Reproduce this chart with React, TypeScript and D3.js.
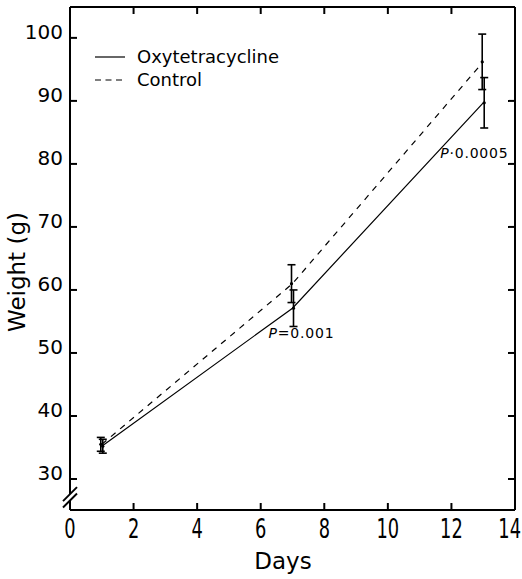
import React from "react";
import * as d3 from "d3";

const days = [1, 7, 13];
const oxyMean = [35.2, 57.1, 89.7];
const oxyErr = [1.1, 2.9, 4.0];
const controlMean = [35.5, 61.0, 96.2];
const controlErr = [1.1, 3.0, 4.4];
const xTicks = [0, 2, 4, 6, 8, 10, 12, 14];
const yTicks = [30, 40, 50, 60, 70, 80, 90, 100];
const rightTicks = [30, 40, 50, 60, 70, 80, 90];
const pLabels = [
  { day: 7, value: 52.3, text: "P", rest: "=0.001", dx: -24 },
  { day: 13, value: 81.0, text: "P", rest: "·0.0005", dx: -43 },
];
const legendItems = [
  { label: "Oxytetracycline", dash: "none" },
  { label: "Control", dash: "6,4.5" },
];

const W = 522;
const H = 579;
const left = 70;
const right = 515;
const top = 7;
const bottom = 510;

export default function App() {
  const x = d3.scaleLinear().domain([0, 14]).range([left, right]);
  const y = d3.scaleLinear().domain([25.08, 104.9]).range([bottom, top]);
  const line = d3
    .line<number>()
    .x((_, i) => x(days[i]))
    .y((d) => y(d));
  const font = "DejaVu Sans, sans-serif";
  const tick = 7;

  const errBar = (d: number, m: number, e: number, off: number, key: string, w = 1.6) => {
    const cx = x(d) + off;
    return (
      <g key={key} stroke="#000" strokeWidth={w}>
        <line x1={cx} x2={cx} y1={y(m + e)} y2={y(m - e)} />
        <line x1={cx - 4} x2={cx + 4} y1={y(m + e)} y2={y(m + e)} />
        <line x1={cx - 4} x2={cx + 4} y1={y(m - e)} y2={y(m - e)} />
        <circle cx={cx} cy={y(m)} r={1.6} fill="#000" stroke="none" />
      </g>
    );
  };

  return (
    <svg
      width={W}
      height={H}
      style={{ position: "absolute", left: 0, top: 0, background: "#fff" }}
      fontFamily={font}
    >
      <rect x={0} y={0} width={W} height={H} fill="#fff" />
      {/* frame */}
      <g stroke="#000" strokeWidth={2} fill="none">
        <line x1={left} x2={right} y1={top} y2={top} />
        <line x1={right} x2={right} y1={top} y2={bottom} />
        <line x1={left} x2={right} y1={bottom} y2={bottom} />
        <line x1={left} x2={left} y1={top} y2={y(27.6)} />
        <line x1={left} x2={left} y1={y(26.6)} y2={bottom} />
      </g>
      {/* axis break */}
      <g stroke="#000" strokeWidth={2}>
        <line x1={left - 7} x2={left + 7} y1={y(27.6) + 7} y2={y(27.6) - 7} />
        <line x1={left - 7} x2={left + 7} y1={y(26.6) + 7} y2={y(26.6) - 7} />
      </g>
      {/* ticks */}
      <g stroke="#000" strokeWidth={2}>
        {xTicks.slice(1, -1).map((t) => (
          <g key={"xt" + t}>
            <line x1={x(t)} x2={x(t)} y1={bottom} y2={bottom - tick} />
            <line x1={x(t)} x2={x(t)} y1={top} y2={top + tick} />
          </g>
        ))}
        {yTicks.map((t) => (
          <line key={"yl" + t} x1={left} x2={left + tick} y1={y(t)} y2={y(t)} />
        ))}
        {rightTicks.map((t) => (
          <line key={"yr" + t} x1={right} x2={right - tick} y1={y(t)} y2={y(t)} />
        ))}
      </g>
      {/* tick labels */}
      <g fontSize={27} fill="#000">
        {xTicks.map((t, i) => {
          const last = i === xTicks.length - 1;
          const px = last ? 521 : x(t);
          return (
            <text
              key={"xl" + t}
              transform={`translate(${px},538) scale(0.66,1)`}
              textAnchor={last ? "end" : "middle"}
            >
              {t}
            </text>
          );
        })}
      </g>
      <g fontSize={20} fill="#000">
        {yTicks.map((t) => (
          <text key={"ylab" + t} x={63} y={y(t) + 1} textAnchor="end">
            {t}
          </text>
        ))}
      </g>
      {/* axis titles */}
      <text x={283} y={569} fontSize={23} textAnchor="middle" fill="#000">
        Days
      </text>
      <text
        transform={`translate(25, 272) rotate(-90)`}
        fontSize={23}
        textAnchor="middle"
        fill="#000"
      >
        Weight (g)
      </text>
      {/* data lines */}
      <path d={line(oxyMean) || ""} fill="none" stroke="#000" strokeWidth={1.2} />
      <path
        d={line(controlMean) || ""}
        fill="none"
        stroke="#000"
        strokeWidth={1.2}
        strokeDasharray="6,6"
      />
      {/* error bars */}
      {days.map((d, i) => errBar(d, controlMean[i], controlErr[i], -1, "c" + i))}
      {days.map((d, i) => errBar(d, oxyMean[i], oxyErr[i], 1, "o" + i))}
      {/* p labels */}
      {pLabels.map((p) => (
        <text
          key={p.rest}
          x={x(p.day) + p.dx}
          y={y(p.value)}
          fontSize={14}
          letterSpacing={0.8}
          fill="#000"
        >
          <tspan fontStyle="italic">{p.text}</tspan>
          <tspan>{p.rest}</tspan>
        </text>
      ))}
      {/* legend */}
      {legendItems.map((it, i) => (
        <g key={it.label}>
          <line
            x1={95}
            x2={125}
            y1={57 + i * 23}
            y2={57 + i * 23}
            stroke="#000"
            strokeWidth={1.2}
            strokeDasharray={it.dash}
          />
          <text x={137} y={63 + i * 23} fontSize={18} fill="#000">
            {it.label}
          </text>
        </g>
      ))}
    </svg>
  );
}
